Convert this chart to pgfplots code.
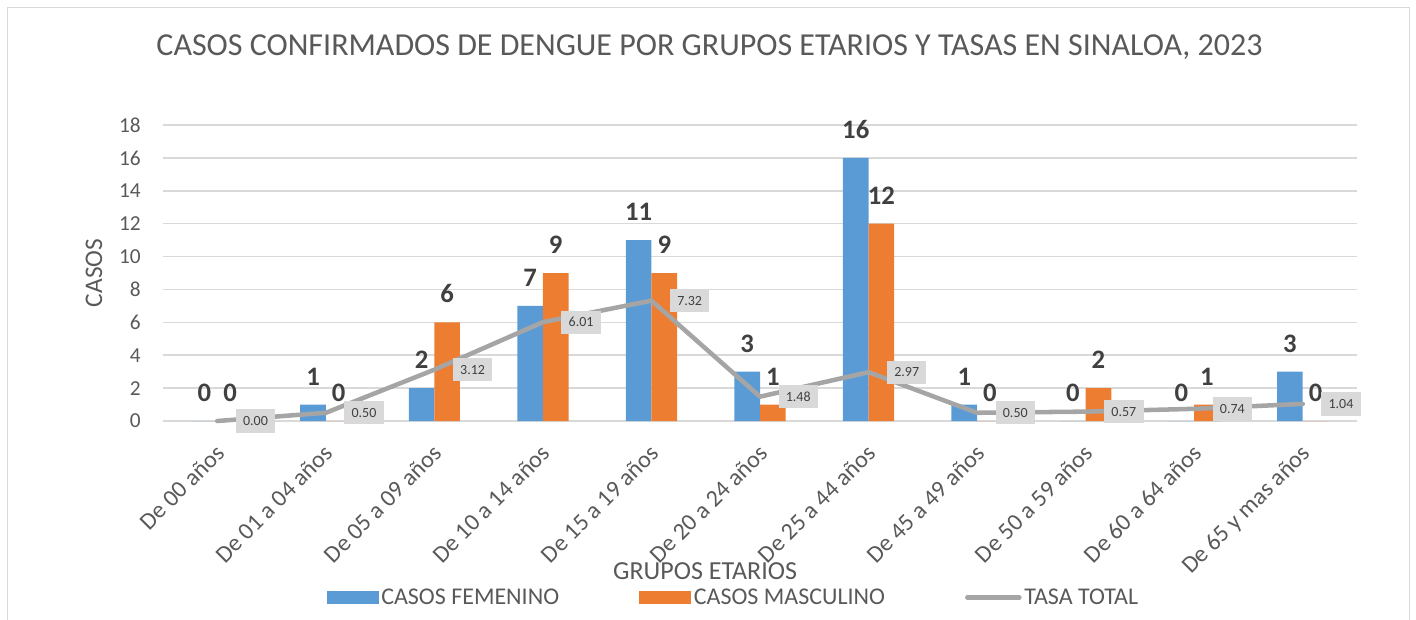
\documentclass[border=0pt]{standalone}
\usepackage{pgfplots}
\pgfplotsset{compat=1.18}
\usepackage{fontspec}
\setmainfont{Carlito}
\definecolor{cblue}{HTML}{5B9BD5}
\definecolor{corange}{HTML}{ED7D31}
\definecolor{cgray}{HTML}{A5A5A5}
\definecolor{cgrid}{HTML}{D9D9D9}
\definecolor{ctext}{HTML}{595959}
\definecolor{clabel}{HTML}{404040}
\begin{document}
\begin{tikzpicture}
\useasboundingbox (0,0) rectangle (1062pt,464.25pt);
\draw[cgrid, line width=0.75pt] (5.25pt,-2pt) -- (5.25pt,458.25pt) -- (1056.75pt,458.25pt) -- (1056.75pt,-2pt);
\begin{axis}[
  at={(122.25pt,148.5pt)}, anchor=south west,
  scale only axis, width=895.5pt, height=222pt,
  xmin=-0.5, xmax=10.5, ymin=0, ymax=18,
  clip=false,
  ytick={0,2,...,18},
  xtick={0,...,10},
  xticklabels={De 00 años, De 01 a 04 años, De 05 a 09 años, De 10 a 14 años, De 15 a 19 años, De 20 a 24 años, De 25 a 44 años, De 45 a 49 años, De 50 a 59 años, De 60 a 64 años, De 65 y mas años},
  axis line style={draw=none},
  major tick length=0pt,
  ymajorgrids, grid style={cgrid, line width=1.1pt},
  /pgf/number format/assume math mode=true,
  yticklabel style={font=\fontsize{16pt}{18pt}\selectfont, text=ctext, inner sep=0pt, xshift=-16.5pt},
  xticklabel style={font=\fontsize{18pt}{20pt}\selectfont, text=ctext, inner sep=0pt, xshift=-2pt, yshift=-16.5pt, rotate=45, anchor=north east},
  title={CASOS CONFIRMADOS DE DENGUE POR GRUPOS ETARIOS Y TASAS EN SINALOA, 2023},
  title style={at={(axis description cs:0.4577,1.208)}, anchor=base, font=\fontsize{24pt}{28pt}\selectfont, text=ctext},
  xlabel={GRUPOS ETARIOS},
  xlabel style={at={(axis description cs:0.454,-0.507)}, anchor=center, font=\fontsize{19.5pt}{22pt}\selectfont, text=ctext},
  ylabel={CASOS},
  ylabel style={at={(axis description cs:-0.0578,0.5)}, anchor=center, font=\fontsize{19pt}{22pt}\selectfont, text=ctext},
  legend columns=3,
  legend style={draw=none, fill=none, at={(axis description cs:0.478,-0.598)}, anchor=center,
    font=\fontsize{18pt}{20pt}\selectfont, text=ctext,
    nodes={inner xsep=2pt, inner ysep=1pt},
    /tikz/every even column/.append style={column sep=58pt}},
]
\addplot[ybar, fill=cblue, draw=none, bar width=0.236, bar shift=-0.118,
  nodes near coords,
  every node near coord/.append style={font=\bfseries\fontsize{20pt}{22pt}\selectfont, text=clabel, inner sep=0pt, yshift=14.2pt, xshift=-9.6pt},
  legend image code/.code={\fill[cblue] (0pt,-4.4pt) rectangle (39pt,5.35pt);}]
  coordinates {(0,0) (1,1) (2,2) (3,7) (4,11) (5,3) (6,16) (7,1) (8,0) (9,0) (10,3)};
\addlegendentry{CASOS FEMENINO}
\addplot[ybar, fill=corange, draw=none, bar width=0.236, bar shift=0.118,
  nodes near coords,
  every node near coord/.append style={font=\bfseries\fontsize{20pt}{22pt}\selectfont, text=clabel, inner sep=0pt, yshift=14.2pt, xshift=9.6pt},
  legend image code/.code={\fill[corange] (0pt,-4.4pt) rectangle (39pt,5.35pt);}]
  coordinates {(0,0) (1,0) (2,6) (3,9) (4,9) (5,1) (6,12) (7,0) (8,2) (9,1) (10,0)};
\addlegendentry{CASOS MASCULINO}
\addplot[cgray, line width=3.4pt, line join=round, line cap=round, mark=none,
  point meta=y,
  nodes near coords={\pgfmathprintnumber[fixed,fixed zerofill,precision=2]{\pgfplotspointmeta}},
  every node near coord/.append style={anchor=west, xshift=12.2pt, fill=cgrid, text=clabel, font=\fontsize{10.5pt}{12pt}\selectfont, minimum width=29.5pt, minimum height=17.5pt, inner sep=0pt},
  legend image code/.code={\draw[cgray, line width=3.4pt] (0pt,0.5pt) -- (39pt,0.5pt);}]
  coordinates {(0,0.00) (1,0.50) (2,3.12) (3,6.01) (4,7.32) (5,1.48) (6,2.97) (7,0.50) (8,0.57) (9,0.74) (10,1.04)};
\addlegendentry{TASA TOTAL}
\end{axis}
\end{tikzpicture}
\end{document}
